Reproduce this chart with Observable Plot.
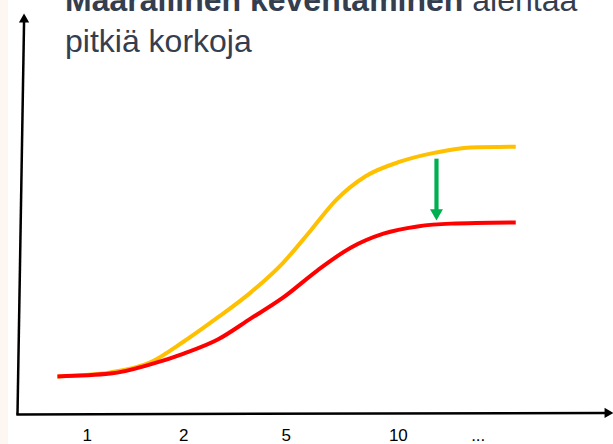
<!DOCTYPE html>
<html>
<head>
<meta charset="utf-8">
<script src="https://cdn.jsdelivr.net/npm/d3@7"></script>
<script src="https://cdn.jsdelivr.net/npm/@observablehq/plot@0.6"></script>
<style>
  html, body { margin: 0; padding: 0; background: #ffffff; }
  #wrap { position: relative; width: 613px; height: 444px; overflow: hidden; }
  #strip { position: absolute; left: 0; top: 0; width: 8px; height: 444px; background: #fcf7f2; }
  #title { position: absolute; left: 65px; top: -20px; font-family: "Liberation Sans", Arial, sans-serif;
           font-size: 32px; line-height: 41px; color: #343e4f; white-space: nowrap; }
  #chart { position: absolute; left: 0; top: 0; }
</style>
</head>
<body>
<div id="wrap">
  <div id="strip"></div>
  <div id="chart"></div>
  <div id="title"><b>Määrällinen keventäminen</b> alentaa<br>pitkiä korkoja</div>
</div>
<script>
// Maturity tick positions (abstract axis units) and their labels
const tickPositions = [11.7, 27.9, 45.1, 63.9, 77.3];
const tickLabels = ["1", "2", "5", "10", "..."];

// Yield curve before QE (orange)
const beforeX = [6.7, 15.6, 22.3, 27.9, 33.6, 39.1, 44.6, 49.2, 53.4, 58.4, 64.3, 70.1, 76.0, 83.6];
const beforeY = [9.5, 10.5, 13.0, 18.2, 24.2, 30.4, 37.9, 45.9, 53.4, 59.4, 63.1, 65.3, 66.6, 66.8];

// Yield curve after QE (red)
const afterX = [6.7, 15.6, 22.3, 27.9, 33.6, 39.1, 44.6, 50.3, 55.9, 61.4, 67.1, 72.7, 83.6];
const afterY = [9.5, 10.2, 12.5, 15.2, 18.7, 23.9, 29.2, 35.9, 41.6, 45.1, 46.9, 47.6, 47.9];

// Downward shift arrow (green)
const shiftX = 70.3;
const shiftFrom = 63.8;
const shiftTo = 48.4;

// Axis lines (hand-drawn, slightly tilted)
const yAxisX = [0, 1.1];
const yAxisY = [0, 100];
const xAxisX = [-0.2, 100];
const xAxisY = [0, 0.4];

const before = beforeX.map((x, i) => ({x, y: beforeY[i]}));
const after = afterX.map((x, i) => ({x, y: afterY[i]}));
const ticks = tickPositions.map((x, i) => ({x, label: tickLabels[i]}));

const chart = Plot.plot({
  width: 613,
  height: 444,
  marginLeft: 17,
  marginRight: 0,
  marginTop: 13,
  marginBottom: 30,
  style: {background: "transparent", overflow: "visible"},
  x: {domain: [0, 100], axis: null},
  y: {domain: [0, 100], axis: null},
  marks: [
    // y axis line + arrowhead
    Plot.link([0], {x1: yAxisX[0], y1: yAxisY[0], x2: yAxisX[1], y2: yAxisY[1] - 2, stroke: "#000", strokeWidth: 2.5}),
    Plot.dot([0], {x: yAxisX[1], y: yAxisY[1], symbol: "triangle", r: 3.8, fill: "#000", stroke: "none", dy: 6}),
    // x axis line + arrowhead
    Plot.link([0], {x1: xAxisX[0], y1: xAxisY[0], x2: xAxisX[1] - 1.2, y2: xAxisY[1], stroke: "#000", strokeWidth: 2.5}),
    Plot.dot([0], {x: xAxisX[1], y: xAxisY[1], symbol: "triangle", rotate: 90, r: 3.8, fill: "#000", stroke: "none", dx: -6}),
    // tick labels
    Plot.text(ticks, {x: "x", y: 0, text: "label", dy: 21, fontSize: 17, fill: "#000", fontFamily: "Liberation Sans, Arial, sans-serif"}),
    // curves
    Plot.line(before, {x: "x", y: "y", stroke: "#ffc000", strokeWidth: 4, curve: "monotone-x", strokeLinecap: "butt"}),
    Plot.line(after, {x: "x", y: "y", stroke: "#ff0000", strokeWidth: 4, curve: "monotone-x", strokeLinecap: "butt"}),
    // green arrow
    Plot.link([0], {x1: shiftX, y1: shiftFrom, x2: shiftX, y2: shiftTo + 2.6, stroke: "#00b050", strokeWidth: 4.2, strokeLinecap: "butt"}),
    Plot.dot([0], {x: shiftX, y: shiftTo, symbol: "triangle", rotate: 180, r: 4.8, fill: "#00b050", stroke: "none", dy: -7.5})
  ]
});
document.getElementById("chart").appendChild(chart);
</script>
</body>
</html>
